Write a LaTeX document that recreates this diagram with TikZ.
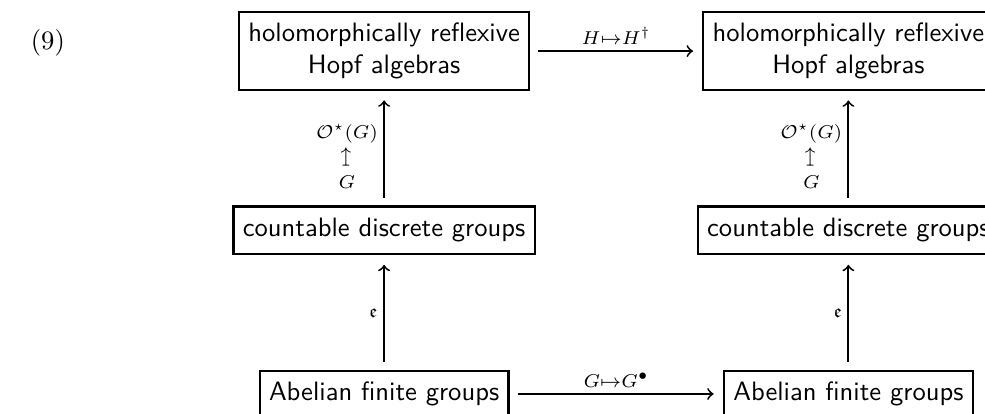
\documentclass[tikz,border=0pt]{standalone}
\usepackage{amssymb}
\usepackage{graphicx}
\usetikzlibrary{positioning}

\begin{document}
\begin{tikzpicture}[
      node distance=43pt and 64.7pt,
      catbox/.style={draw, line width=0.8pt, inner xsep=3.5pt, inner ysep=3pt,
                     font=\sffamily, align=center},
      tallbox/.style={catbox, minimum height=29.3pt},
      midbox/.style={catbox, minimum height=18pt},
      lowbox/.style={catbox, minimum height=17.3pt},
      arr/.style={->, line width=0.7pt, shorten >=3.5pt, shorten <=3pt},
      lbl/.style={font=\scriptsize, inner sep=2pt, align=center}
    ]
    \useasboundingbox (0,0) rectangle (370.3pt,-155.6pt);
    \node at (18pt,-16.2pt) (eqno) {(9)};
    \node[tallbox] at (144.4pt,-19.2pt) (hl) {holomorphically reflexive\\Hopf algebras};
    \node[tallbox, right=of hl] (hr) {holomorphically reflexive\\Hopf algebras};
    \node[midbox, below=of hl] (cl) {countable discrete groups};
    \node[midbox, below=of hr] (cr) {countable discrete groups};
    \node[lowbox, below=of cl] (al) {Abelian finite groups};
    \node[lowbox, below=of cr] (ar) {Abelian finite groups};
    \draw[arr] (hl) -- node[lbl, above] {$H{\mapsto}H^\dagger$} (hr);
    \draw[arr] (al) -- node[lbl, above] {$G{\mapsto}G^\bullet$} (ar);
    \draw[arr] (al) -- node[lbl, left] {$\mathfrak{e}$} (cl);
    \draw[arr] (ar) -- node[lbl, left] {$\mathfrak{e}$} (cr);
    \draw[arr] (cl) -- node[lbl, left, pos=0.43]
      {$\mathcal{O}^\star(G)$\\\rotatebox{90}{$\mapsto$}\\$G$} (hl);
    \draw[arr] (cr) -- node[lbl, left, pos=0.43]
      {$\mathcal{O}^\star(G)$\\\rotatebox{90}{$\mapsto$}\\$G$} (hr);
  \end{tikzpicture}
\end{document}
